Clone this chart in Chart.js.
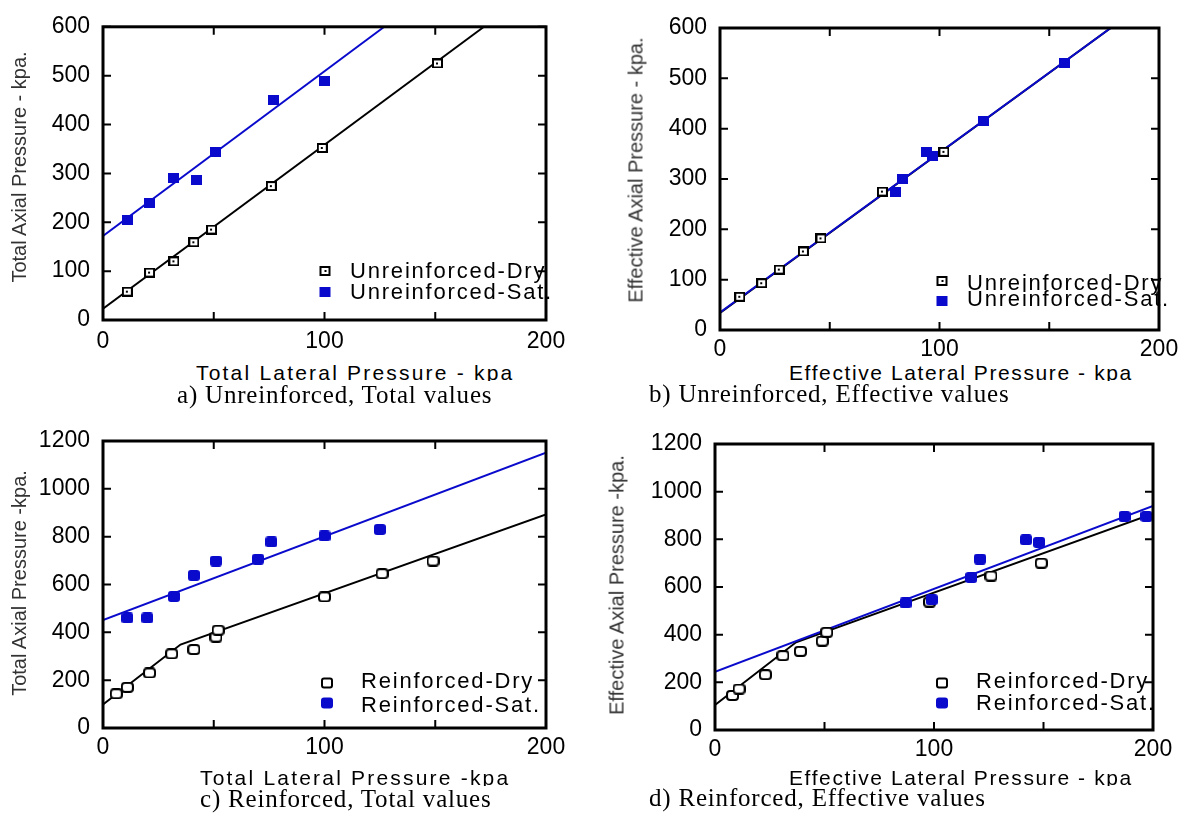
<!DOCTYPE html>
<html lang="en">
<head>
  <meta charset="UTF-8" />
  <title>Axial vs Lateral Pressure</title>
  <script src="https://cdn.jsdelivr.net/npm/chart.js"></script>
  <style>
    body { margin: 0; background: #fff; }
    #figure {
      position: relative;
      width: 1190px;
      height: 816px;
      overflow: hidden;
      font-family: 'Liberation Sans', Arial, sans-serif;
      color: #000;
    }
    .panel { position: absolute; }
    .ytitle {
      position: absolute;
      transform: translate(-50%, -50%) rotate(-90deg);
      font-size: 20px;
      color: #333;
      white-space: nowrap;
    }
    .xtitle {
      position: absolute;
      font-size: 21px;
      letter-spacing: 2.2px;
      line-height: 24px;
      height: 20px;
      overflow: hidden;
      white-space: nowrap;
    }
    .leg {
      position: absolute;
      font-size: 22px;
      letter-spacing: 1.8px;
      line-height: 21px;
      white-space: nowrap;
    }
    .mk {
      position: absolute;
      box-sizing: border-box;
      width: 11px;
      height: 10px;
      transform: translate(-50%, -50%);
    }
    .mk.dry { border: 2px solid #000; background: #fff; }
    .mk.dot::after {
      content: '';
      position: absolute;
      left: 2.5px;
      top: 2px;
      width: 2px;
      height: 2px;
      background: #000;
    }
    .mk.sat { background: #0a0acc; }
    .mk.round { width: 12px; height: 11px; border-radius: 3px; }
    .caption {
      position: absolute;
      font-family: 'Liberation Serif', 'Times New Roman', serif;
      font-size: 25px;
      line-height: 28px;
      letter-spacing: 0.8px;
      white-space: nowrap;
    }
  </style>
</head>
<body>
  <div id="figure">
    <div class="panel" style="left:0;top:0"><canvas id="chartA" width="595" height="360"></canvas></div>
    <div class="panel" style="left:595px;top:0"><canvas id="chartB" width="595" height="360"></canvas></div>
    <div class="panel" style="left:0;top:408px"><canvas id="chartC" width="595" height="360"></canvas></div>
    <div class="panel" style="left:595px;top:408px"><canvas id="chartD" width="595" height="360"></canvas></div>

    <!-- axis titles -->
    <div class="ytitle" style="left:19px;top:167px">Total Axial Pressure - kpa.</div>
    <div class="ytitle" style="left:636px;top:170px">Effective Axial Pressure - kpa.</div>
    <div class="ytitle" style="left:19px;top:583px">Total Axial Pressure -kpa.</div>
    <div class="ytitle" style="left:617px;top:585px">Effective Axial Pressure -kpa.</div>

    <div class="xtitle" style="left:196px;top:361px">Total Lateral Pressure - kpa</div>
    <div class="xtitle" style="left:789px;top:361px;letter-spacing:1.6px">Effective Lateral Pressure - kpa</div>
    <div class="xtitle" style="left:200px;top:766px">Total Lateral Pressure -kpa</div>
    <div class="xtitle" style="left:789px;top:766px;letter-spacing:1.6px">Effective Lateral Pressure - kpa</div>

    <!-- legends -->
    <span class="mk dry dot" style="left:325px;top:271px"></span>
    <span class="mk sat" style="left:325px;top:292px"></span>
    <div class="leg" style="left:350px;top:260px">Unreinforced-Dry</div>
    <div class="leg" style="left:350px;top:281px">Unreinforced-Sat.</div>

    <span class="mk dry dot" style="left:942px;top:281px"></span>
    <span class="mk sat" style="left:942px;top:301px"></span>
    <div class="leg" style="left:967px;top:272px">Unreinforced-Dry</div>
    <div class="leg" style="left:967px;top:288px">Unreinforced-Sat.</div>

    <span class="mk dry round" style="left:327px;top:683px"></span>
    <span class="mk sat round" style="left:327px;top:703px"></span>
    <div class="leg" style="left:361px;top:670px">Reinforced-Dry</div>
    <div class="leg" style="left:361px;top:694px">Reinforced-Sat.</div>

    <span class="mk dry round" style="left:942px;top:683px"></span>
    <span class="mk sat round" style="left:942px;top:703px"></span>
    <div class="leg" style="left:976px;top:670px">Reinforced-Dry</div>
    <div class="leg" style="left:976px;top:692px">Reinforced-Sat.</div>

    <!-- captions -->
    <div class="caption" style="left:177px;top:380.5px">a) Unreinforced, Total values</div>
    <div class="caption" style="left:649px;top:380px">b) Unreinforced, Effective values</div>
    <div class="caption" style="left:200px;top:784.5px">c) Reinforced, Total values</div>
    <div class="caption" style="left:649px;top:784px">d) Reinforced, Effective values</div>
  </div>

  <script>
    const BLUE = '#0a0acc';

    // a) Unreinforced, total values  [lateral, axial] in kpa
    const aDry = [[11, 58], [21, 97], [32, 120], [41, 159], [49, 185], [76, 274], [99, 352], [151, 525]];
    const aSat = [[11, 204], [21, 239], [32, 291], [42, 287], [51, 344], [77, 450], [100, 490]];
    const aDryFit = [[0, 23], [172, 600]];
    const aSatFit = [[0, 172], [127, 600]];

    // b) Unreinforced, effective values
    const bDry = [[9, 66], [19, 93], [27, 120], [38, 156], [46, 182], [74, 275], [102, 354]];
    const bSat = [[80, 274], [83, 300], [94, 354], [97, 345], [120, 416], [157, 530]];
    const bDryFit = [[0, 34], [178, 600]];
    const bSatFit = [[0, 35], [178, 600]];

    // c) Reinforced, total values
    const cDry = [[6, 143], [11, 170], [21, 230], [31, 310], [41, 328], [51, 380], [52, 409], [100, 548], [126, 645], [149, 698]];
    const cSat = [[11, 460], [20, 460], [32, 550], [41, 638], [51, 698], [70, 706], [76, 778], [100, 803], [125, 830]];
    const cDryFit = [[0, 98], [35, 349], [200, 893]];
    const cSatFit = [[0, 451], [200, 1151]];

    // d) Reinforced, effective values
    const dDry = [[8, 145], [11, 172], [23, 232], [31, 312], [39, 330], [49, 373], [51, 410], [98, 537], [126, 646], [149, 700]];
    const dSat = [[87, 533], [99, 547], [117, 640], [121, 717], [142, 798], [148, 787], [187, 896], [197, 896]];
    const dDryFit = [[0, 105], [37, 368], [200, 908]];
    const dSatFit = [[0, 244], [200, 940]];

    const toPts = arr => arr.map(([x, y]) => ({ x, y }));

    // small canvas images used as point styles
    function marker(w, h, r, color, open, dot) {
      const c = document.createElement('canvas');
      c.width = w;
      c.height = h;
      const g = c.getContext('2d');
      g.beginPath();
      if (open) {
        g.roundRect(1, 1, w - 2, h - 2, r);
        g.fillStyle = '#fff';
        g.fill();
        g.lineWidth = 2;
        g.strokeStyle = color;
        g.stroke();
        if (dot) {
          g.fillStyle = color;
          g.fillRect(Math.floor(w / 2) - 1, Math.floor(h / 2) - 1, 2, 2);
        }
      } else {
        g.roundRect(0, 0, w, h, r);
        g.fillStyle = color;
        g.fill();
      }
      return c;
    }

    const dryDot = marker(11, 10, 0, '#000', true, true);
    const satSquare = marker(11, 10, 0, BLUE, false);
    const dryRound = marker(13, 11, 3, '#000', true, false);
    const satRound = marker(12, 11, 3, BLUE, false);

    // box frame with inward tick marks on all four sides
    const frameTicks = {
      id: 'frameTicks',
      afterDatasetsDraw(chart) {
        const { ctx, chartArea: a, scales: { x, y } } = chart;
        const len = 8;
        ctx.save();
        ctx.strokeStyle = '#000';
        ctx.lineWidth = 2;
        ctx.beginPath();
        x.ticks.forEach(t => {
          const px = x.getPixelForValue(t.value);
          ctx.moveTo(px, a.bottom); ctx.lineTo(px, a.bottom - len);
          ctx.moveTo(px, a.top); ctx.lineTo(px, a.top + len);
        });
        y.ticks.forEach(t => {
          const py = y.getPixelForValue(t.value);
          ctx.moveTo(a.left, py); ctx.lineTo(a.left + len, py);
          ctx.moveTo(a.right, py); ctx.lineTo(a.right - len, py);
        });
        ctx.stroke();
        ctx.lineWidth = 3;
        ctx.strokeRect(a.left, a.top, a.right - a.left, a.bottom - a.top);
        ctx.restore();
      }
    };

    const tickFont = { family: "'Liberation Sans', Arial, sans-serif", size: 23 };

    function makeChart(id, area, yMax, yStep, xPad, s) {
      const canvas = document.getElementById(id);
      const W = canvas.width, H = canvas.height;
      return new Chart(canvas, {
        type: 'scatter',
        data: {
          datasets: [
            { label: s.names[1], data: toPts(s.sat), pointStyle: s.satMark, pointRadius: 6, order: 0 },
            { label: s.names[0], data: toPts(s.dry), pointStyle: s.dryMark, pointRadius: 6, order: 1 },
            { label: 'sat fit', data: toPts(s.satFit), showLine: true, pointRadius: 0,
              borderColor: BLUE, borderWidth: 2, order: 2 },
            { label: 'dry fit', data: toPts(s.dryFit), showLine: true, pointRadius: 0,
              borderColor: '#000', borderWidth: 2, order: 3 }
          ]
        },
        options: {
          responsive: false,
          animation: false,
          layout: { padding: { left: 0, top: area.top, right: W - area.right, bottom: 0 } },
          plugins: { legend: { display: false }, tooltip: { enabled: false } },
          scales: {
            x: {
              type: 'linear', min: 0, max: 200,
              ticks: { stepSize: 50, autoSkip: false, maxRotation: 0, padding: xPad,
                       font: tickFont, color: '#000',
                       callback: v => (v % 100 === 0 ? String(v) : '') },
              grid: { display: false, drawTicks: false },
              border: { display: false },
              afterFit: sc => { sc.height = H - area.bottom; }
            },
            y: {
              min: 0, max: yMax,
              ticks: { stepSize: yStep, padding: 13, font: tickFont, color: '#000',
                       callback: v => String(v) },
              grid: { display: false, drawTicks: false },
              border: { display: false },
              afterFit: sc => { sc.width = area.left; }
            }
          }
        },
        plugins: [frameTicks]
      });
    }

    makeChart('chartA', { left: 103, top: 16, right: 546, bottom: 320 }, 600, 100, 8, {
      names: ['Unreinforced-Dry', 'Unreinforced-Sat.'],
      dry: aDry, sat: aSat, dryFit: aDryFit, satFit: aSatFit, dryMark: dryDot, satMark: satSquare
    });
    makeChart('chartB', { left: 125, top: 28, right: 564, bottom: 330 }, 600, 100, 6, {
      names: ['Unreinforced-Dry', 'Unreinforced-Sat.'],
      dry: bDry, sat: bSat, dryFit: bDryFit, satFit: bSatFit, dryMark: dryDot, satMark: satSquare
    });
    makeChart('chartC', { left: 103, top: 33, right: 546, bottom: 320 }, 1200, 200, 6, {
      names: ['Reinforced-Dry', 'Reinforced-Sat.'],
      dry: cDry, sat: cSat, dryFit: cDryFit, satFit: cSatFit, dryMark: dryRound, satMark: satRound
    });
    makeChart('chartD', { left: 120, top: 36, right: 558, bottom: 322 }, 1200, 200, 6, {
      names: ['Reinforced-Dry', 'Reinforced-Sat.'],
      dry: dDry, sat: dSat, dryFit: dDryFit, satFit: dSatFit, dryMark: dryRound, satMark: satRound
    });
  </script>
</body>
</html>
